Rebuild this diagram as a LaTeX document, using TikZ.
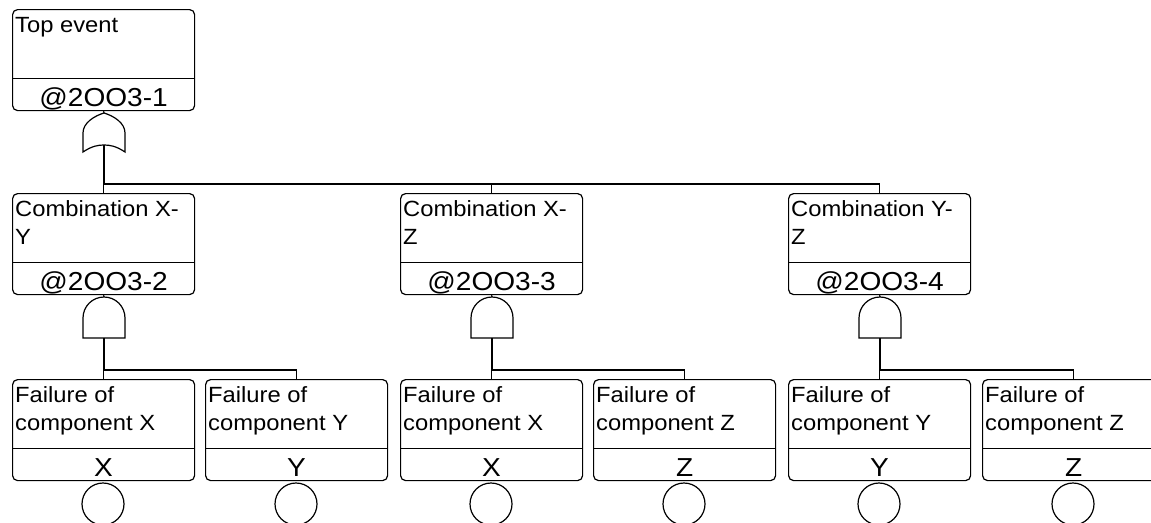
\documentclass[tikz,border=0pt]{standalone}
\usepackage{fontspec}
\setmainfont{Liberation Sans}[FakeStretch=1.08]
\usetikzlibrary{calc}

\tikzset{
  wire/.style={line width=1.2pt, black},
  evbox/.style={draw, line width=1.2pt, rounded corners=5pt, anchor=north west,
    minimum width=182pt, minimum height=101pt, inner sep=0pt},
  lbl/.style={anchor=base west, inner sep=0pt, font=\fontsize{22}{26}\selectfont},
  idlbl/.style={anchor=base, inner sep=0pt, font=\fontsize{26}{30}\selectfont},
  basic/.style={draw, circle, line width=1.2pt, minimum size=42pt, inner sep=0pt},
}

% event box: name, x, y, first line, second line, identifier
\newcommand\eventbox[6]{%
  \node[evbox] (#1) at (#2,#3) {};
  \draw[wire] ($(#1.south west)+(0,-33)$) -- ($(#1.south east)+(0,-33)$);
  \node[lbl] (#1-a) at ($(#1.north west)+(3,23)$) {#4};
  \node[lbl] (#1-b) at ($(#1.north west)+(3,51)$) {#5};
  \node[idlbl] (#1-id) at ($(#1.south)+(0,-5)$) {#6};
}

% AND gate below a box: name, centre x, top y
\newcommand\andgate[3]{%
  \draw[wire] (#2-21,#3+41) -- (#2-21,#3+21) arc[start angle=180, end angle=360, radius=21] -- (#2+21,#3+41) -- cycle;
  \coordinate (#1-in) at (#2,#3);
  \coordinate (#1-out) at (#2,#3+41);
}

\begin{document}
\begin{tikzpicture}[x=1pt, y=-1pt]
\useasboundingbox (0,0) rectangle (1151,522);
\clip (0,0) rectangle (1151,522);

% top event
\eventbox{top}{12}{9}{Top event}{}{@2OO3-1}

% OR gate
\draw[wire] (83,152) -- (83,133) .. controls (83,123) and (94,116) .. (104,113)
  .. controls (114,116) and (125,123) .. (125,133) -- (125,152)
  .. controls (116,146) and (110,145) .. (104,145)
  .. controls (98,145) and (92,146) .. (83,152) -- cycle;
\coordinate (or-in) at (104,113);
\coordinate (or-out) at (104,145);

% intermediate events
\eventbox{c1}{12}{193}{Combination X-}{Y}{@2OO3-2}
\eventbox{c2}{400}{193}{Combination X-}{Z}{@2OO3-3}
\eventbox{c3}{788}{193}{Combination Y-}{Z}{@2OO3-4}

% basic events
\eventbox{b1}{12}{379}{Failure of}{component X}{X}
\eventbox{b2}{205}{379}{Failure of}{component Y}{Y}
\eventbox{b3}{400}{379}{Failure of}{component X}{X}
\eventbox{b4}{593}{379}{Failure of}{component Z}{Z}
\eventbox{b5}{788}{379}{Failure of}{component Y}{Y}
\eventbox{b6}{982}{379}{Failure of}{component Z}{Z}

\foreach \n/\x in {e1/103,e2/296,e3/491,e4/684,e5/879,e6/1073}
  \node[basic] (\n) at (\x,504) {};

% AND gates
\andgate{g1}{104}{297}
\andgate{g2}{492}{297}
\andgate{g3}{880}{297}

% connectors, top level
\coordinate (bus0) at (0,184);
\draw[wire] (top.south) -- (or-in);
\draw[wire] (or-out) -- (or-out |- bus0) -- (c3.north |- bus0) -- (c3.north);
\draw[wire] (c1.north |- bus0) -- (c1.north);
\draw[wire] (c2.north |- bus0) -- (c2.north);

% connectors, second level
\coordinate (bus1) at (0,370);
\draw[wire] (c1.south) -- (g1-in);
\draw[wire] (c2.south) -- (g2-in);
\draw[wire] (c3.south) -- (g3-in);
\draw[wire] (g1-out) -- (g1-out |- bus1) -- (b2.north |- bus1) -- (b2.north);
\draw[wire] (b1.north |- bus1) -- (b1.north);
\draw[wire] (g2-out) -- (g2-out |- bus1) -- (b4.north |- bus1) -- (b4.north);
\draw[wire] (b3.north |- bus1) -- (b3.north);
\draw[wire] (g3-out) -- (g3-out |- bus1) -- (b6.north |- bus1) -- (b6.north);
\draw[wire] (b5.north |- bus1) -- (b5.north);
\end{tikzpicture}
\end{document}
